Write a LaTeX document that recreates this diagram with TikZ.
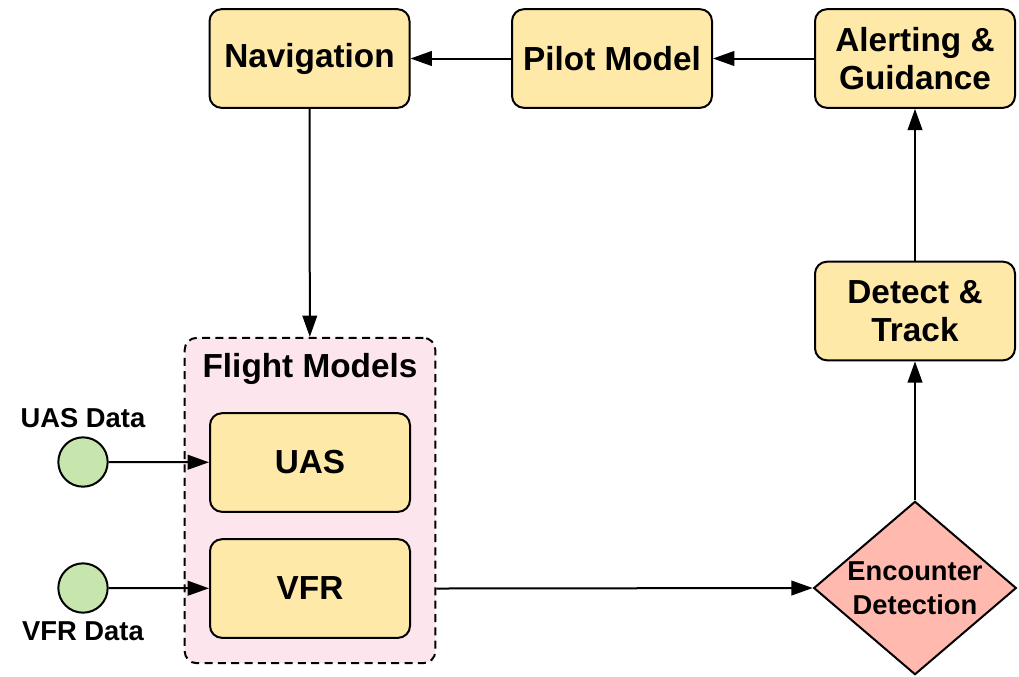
\documentclass[tikz,border=0pt]{standalone}
\usepackage{fontspec}
\setmainfont{Liberation Sans}
\usetikzlibrary{shapes.geometric,arrows.meta}
\definecolor{boxyellow}{HTML}{FFE9A8}
\definecolor{groupink}{HTML}{FCE5EC}
\definecolor{datagreen}{HTML}{C6E6AE}
\definecolor{encsalmon}{HTML}{FFB9AE}
\tikzset{
  block/.style={draw, line width=1.5pt, rounded corners=9pt, fill=boxyellow,
    minimum width=150pt, minimum height=74pt, inner sep=0pt, align=center,
    font=\fontsize{25}{29}\selectfont\bfseries},
  group/.style={draw, line width=1.5pt, dash pattern=on 6pt off 4pt,
    rounded corners=9pt, fill=groupink, minimum width=188pt, minimum height=244pt},
  datapt/.style={circle, draw, line width=1.5pt, fill=datagreen, minimum size=37pt, inner sep=0pt},
  datalabel/.style={font=\fontsize{20.5}{24}\selectfont\bfseries},
  flow/.style={line width=1.5pt, -{Triangle[length=16pt,width=11pt]}},
}
\begin{document}
\begin{tikzpicture}[x=0.75pt, y=-0.75pt]
    \useasboundingbox (0,0) rectangle (1019,676);
    % top row
    \node [block] (nav) at (309.5,58.5) {Navigation};
    \node [block] (pilot) at (612,58.5) {Pilot Model};
    \node [block] (alert) at (915,58.5) {Alerting \&\\Guidance};
    \node [block] (track) at (915,311) {Detect \&\\Track};
    % flight models group
    \node [group] (fm) at (310,500.5) {};
    \node [font=\fontsize{25}{29}\selectfont\bfseries] (fmtitle) at (310,369) {Flight Models};
    \node [block] (uas) at (310,462.5) {UAS};
    \node [block] (vfr) at (310,588.5) {VFR};
    % data sources
    \node [datapt] (uasdata) at (83,462) {};
    \node [datapt] (vfrdata) at (83,588) {};
    \node [datalabel] (uaslabel) at (83,418) {UAS Data};
    \node [datalabel] (vfrlabel) at (83,631) {VFR Data};
    % encounter check
    \node [diamond, draw, line width=1.5pt, fill=encsalmon, minimum width=152pt,
      minimum height=130pt, inner sep=0pt,
      label={[align=center, font=\fontsize{20.5}{25.5}\selectfont\bfseries]center:Encounter\\Detection}]
      (enc) at (915,588) {};
    % connectors
    \draw [flow] (alert) -- (pilot);
    \draw [flow] (pilot) -- (nav);
    \draw [flow] (nav) -- (fm);
    \draw [flow] (uasdata) -- (uas);
    \draw [flow] (vfrdata) -- (vfr);
    \draw [flow] (vfr -| fm.east) -- (enc.west);
    \draw [flow] (enc) -- (track);
    \draw [flow] (track) -- (alert);
\end{tikzpicture}
\end{document}
